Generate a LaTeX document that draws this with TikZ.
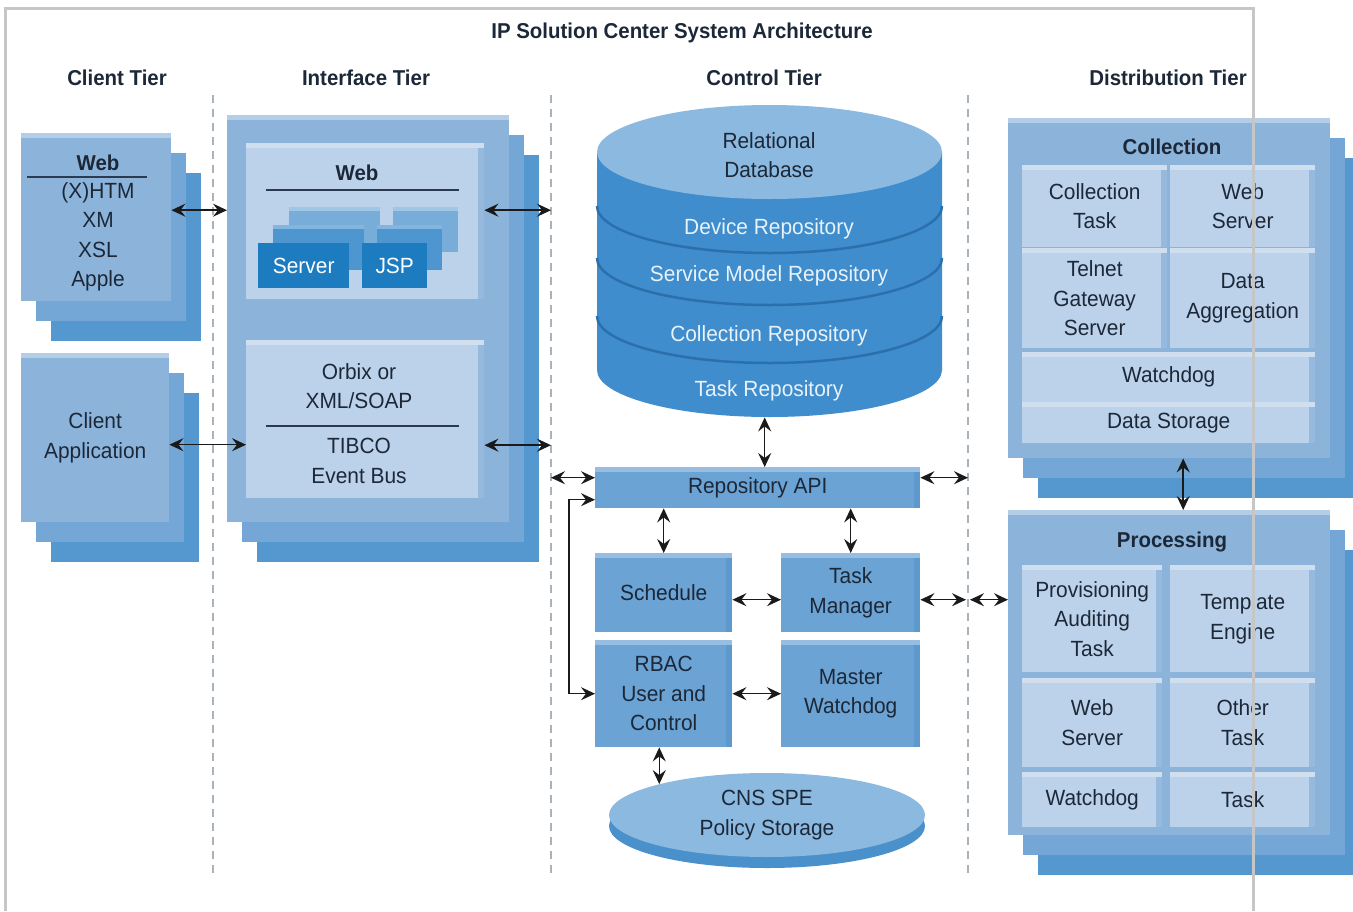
\documentclass[tikz,border=0pt]{standalone}
\usepackage{fontspec}
\setmainfont{Liberation Sans}[FakeStretch=0.95]
\usetikzlibrary{arrows.meta,shadows,shapes.geometric}

\definecolor{ink}{HTML}{1C2838}
\definecolor{panelC}{HTML}{8CB4DB}
\definecolor{stackB}{HTML}{74A7D6}
\definecolor{stackC}{HTML}{5597CF}
\definecolor{innerC}{HTML}{BCD2EA}
\definecolor{boxC}{HTML}{6BA3D4}
\definecolor{sideC}{HTML}{3F82BF}
\definecolor{dbTop}{HTML}{8CB9E0}
\definecolor{dbBody}{HTML}{3F8DCC}
\definecolor{dbLine}{HTML}{2B70AC}
\definecolor{dbText}{HTML}{E8F2FA}
\definecolor{cnsC}{HTML}{4A90CB}
\definecolor{srvA}{HTML}{1C7CBF}
\definecolor{srvB}{HTML}{4E96D0}
\definecolor{srvC}{HTML}{78ADDA}
\definecolor{arrC}{HTML}{1A1A1A}
\definecolor{dashC}{HTML}{A9B3BC}
\definecolor{frameC}{HTML}{C6C6C6}
\definecolor{ruleC}{HTML}{2A3A50}

\tikzset{
  sz/.style 2 args={rectangle,anchor=north west,minimum width=#1,minimum height=#2},
  hitop/.style={path picture={
    \fill[#1] (path picture bounding box.north west) rectangle ([yshift=-5pt]path picture bounding box.north east);}},
  stack/.style={fill=#1,hitop=#1!65!white,
    copy shadow={shadow xshift=30pt,shadow yshift=-40pt,fill=stackC,draw=none},
    copy shadow={shadow xshift=15pt,shadow yshift=-20pt,fill=stackB,draw=none}},
  bevel/.style={fill=#1,path picture={
    \fill[#1!70!white] (path picture bounding box.north west) rectangle ([yshift=-5pt]path picture bounding box.north east);
    \fill[#1!70!sideC] ([xshift=-6pt,yshift=-5pt]path picture bounding box.north east) rectangle (path picture bounding box.south east);}},
  arr/.style={<->,draw=arrC,line width=1.5pt},
  tierline/.style={draw=dashC,line width=1.5pt,dash pattern=on 8pt off 6pt},
  rulel/.style={draw=ruleC,line width=1.5pt},
  framel/.style={draw=frameC,line width=3pt}
}

\begin{document}
\begin{tikzpicture}[x=1pt,y=-1pt,>={Stealth[length=14pt,width=13pt,inset=5pt]},
  every node/.style={font=\fontsize{22}{29.5}\selectfont,text=ink,align=center,inner sep=0pt},
  hd/.style={font=\fontsize{21.5}{26}\selectfont\bfseries}]
  \fill[white] (0,0) rectangle (1353,911);
  \useasboundingbox (0,0) rectangle (1353,911);

  % headings
  \node[hd] (title) at (682,33) {IP Solution Center System Architecture};
  \node[hd] (t1) at (117,78) {Client Tier};
  \node[hd] (t2) at (366,78) {Interface Tier};
  \node[hd] (t3) at (764,78) {Control Tier};
  \node[hd] (t4) at (1168,78) {Distribution Tier};
  \foreach \x/\n in {213/d1,551/d2,968/d3} {
    \coordinate (\n) at (\x,0);
    \draw[tierline] (\x,95) -- (\x,877);
  }

  % client tier
  \node[sz={150}{168},stack=panelC] (webc) at (21,133) {};
  \node[hd] (webct) at (98,163) {Web};
  \draw[rulel] (27,177) -- (147,177);
  \node (webcl) at (98,237) {(X)HTM\\XM\\XSL\\Apple};
  \node[sz={148}{169},stack=panelC] (capp) at (21,353) {Client\\Application};

  % interface tier
  \node[sz={282}{407},stack=panelC] (ifc) at (227,115) {};
  \node[sz={238}{156},bevel=innerC] (ifweb) at (246,143) {};
  \node[hd] (ifwebt) at (357,173) {Web};
  \draw[rulel] (266,190) -- (459,190);
  \foreach \d/\c in {36/srvC,18/srvB} {
    \fill[\c] (258+\d*0.85,243-\d) rectangle ++(91,45);
    \fill[\c] (362+\d*0.85,243-\d) rectangle ++(65,45);
    \fill[\c!70!white] (258+\d*0.85,243-\d) rectangle ++(91,4);
    \fill[\c!70!white] (362+\d*0.85,243-\d) rectangle ++(65,4);
  }
  \node[sz={91}{45},fill=srvA,text=white] (srv) at (258,243) {Server};
  \node[sz={65}{45},fill=srvA,text=white] (jsp) at (362,243) {JSP};
  \node[sz={238}{158},bevel=innerC] (orbix) at (246,340) {};
  \node (orbixt) at (359,386) {Orbix or\\XML/SOAP};
  \draw[rulel] (266,426) -- (459,426);
  \node (tibco) at (359,461) {TIBCO\\Event Bus};

  % control tier
  \node[sz={345}{312}] (db) at (597,105) {};
  \fill[dbBody] (597,152) -- (597,370) arc[start angle=180,end angle=360,x radius=172.5pt,y radius=47pt] -- (942,152) -- cycle;
  \foreach \y in {206,258,316}
    \draw[dbLine,line width=2.5pt] (597,\y) arc[start angle=180,end angle=360,x radius=172.5pt,y radius=47pt];
  \fill[dbTop] (769.5,152) ellipse [x radius=172.5pt,y radius=47pt];
  \node (dbname) at (769,155) {Relational\\Database};
  \node[text=dbText] (dbdev) at (769,229) {Device Repository};
  \node[text=dbText] (dbsrv) at (769,276) {Service Model Repository};
  \node[text=dbText] (dbcol) at (769,336) {Collection Repository};
  \node[text=dbText] (dbtask) at (769,391) {Task Repository};

  \node[sz={325}{41},bevel=boxC] (api) at (595,467) {Repository API};
  \node[sz={137}{79},bevel=boxC] (sched) at (595,553) {Schedule};
  \node[sz={139}{79},bevel=boxC] (task) at (781,553) {Task\\Manager};
  \node[sz={137}{107},bevel=boxC] (rbac) at (595,640) {RBAC\\User and\\Control};
  \node[sz={139}{107},bevel=boxC] (master) at (781,640) {Master\\Watchdog};
  \node[ellipse,minimum width=316,minimum height=84,fill=dbTop,
    copy shadow={shadow xshift=0pt,shadow yshift=-11pt,fill=cnsC,draw=none}] (cns) at (767,815) {CNS SPE\\Policy Storage};

  % distribution tier
  \node[sz={322}{340},stack=panelC] (coll) at (1008,118) {};
  \node[hd] (collt) at (1172,147) {Collection};
  \node[sz={145}{82},bevel=innerC] (ctask) at (1022,165) {Collection\\Task};
  \node[sz={145}{82},bevel=innerC] (cweb) at (1170,165) {Web\\Server};
  \node[sz={145}{100},bevel=innerC] (ctel) at (1022,248) {Telnet\\Gateway\\Server};
  \node[sz={145}{100},bevel=innerC] (cagg) at (1170,248) {Data\\Aggregation};
  \node[sz={293}{50},bevel=innerC] (cwd) at (1022,352) {Watchdog};
  \node[sz={293}{41},bevel=innerC] (cds) at (1022,402) {Data Storage};

  \node[sz={322}{325},stack=panelC] (proc) at (1008,510) {};
  \node[hd] (proct) at (1172,542) {Processing};
  \node[sz={140}{107},bevel=innerC] (pprov) at (1022,565) {Provisioning\\Auditing\\Task};
  \node[sz={145}{107},bevel=innerC] (ptmpl) at (1170,565) {Template\\Engine};
  \node[sz={140}{89},bevel=innerC] (pweb) at (1022,678) {Web\\Server};
  \node[sz={145}{89},bevel=innerC] (pother) at (1170,678) {Other\\Task};
  \node[sz={140}{55},bevel=innerC] (pwd) at (1022,772) {Watchdog};
  \node[sz={145}{55},bevel=innerC] (ptask) at (1170,772) {Task};

  % connectors
  \draw[arr] ([yshift=7pt]webc.east) -- ([yshift=7pt]webc.east -| ifc.west);
  \draw[arr] ([yshift=-7pt]capp.east) -- ([yshift=-7pt]capp.east -| orbix.west);
  \draw[arr] ([yshift=11pt]ifweb.east) -- ([yshift=11pt]ifweb.east -| d2);
  \draw[arr] ([yshift=-26pt]orbix.east) -- ([yshift=-26pt]orbix.east -| d2);
  \draw[arr] ([yshift=10pt]api.west) -- ([yshift=10pt]api.west -| d2);
  \draw[arr] ([yshift=10pt]api.east) -- ([yshift=10pt]api.east -| d3);
  \draw[arr] ([yshift=-12pt]api.west) -- ++(-26,0) |- (rbac.west);
  \draw[arr] ([xshift=-5pt]db.south) -- ([xshift=-5pt]db.south |- api.north);
  \draw[arr] (sched.north |- api.south) -- (sched.north);
  \draw[arr] (task.north |- api.south) -- (task.north);
  \draw[arr] ([yshift=-7pt]sched.east) -- ([yshift=-7pt]task.west);
  \draw[arr] (rbac.east) -- (master.west);
  \draw[arr] (cns.164 |- rbac.south) -- (cns.164);
  \draw[arr,shorten >=2pt] ([yshift=-7pt]task.east) -- ([yshift=-7pt]task.east -| d3);
  \draw[arr,shorten <=2pt] ([yshift=-7pt]task.east -| d3) -- ([yshift=-7pt]task.east -| proc.west);
  \draw[arr] ([xshift=14pt]coll.south) -- ([xshift=14pt]proc.north);

  % outer frame
  \draw[framel] (5,911) -- (5,8) -- (1253,8) -- (1253,911);
\end{tikzpicture}
\end{document}
